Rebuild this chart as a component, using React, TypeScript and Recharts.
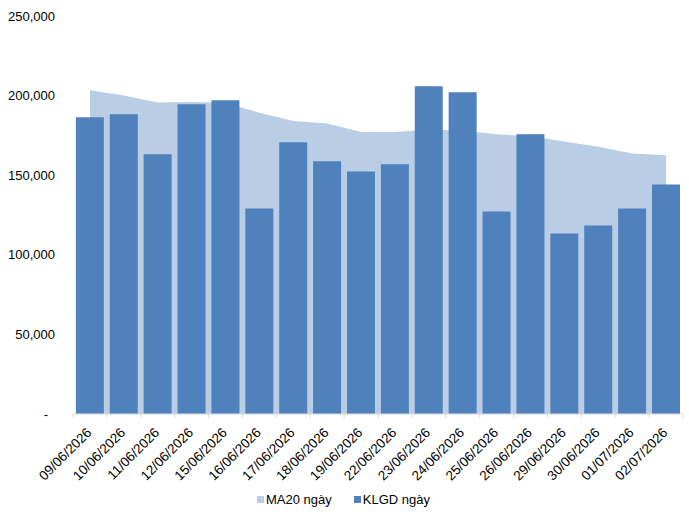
import React from "react";
import { ComposedChart, Bar, Area, XAxis, YAxis, Legend } from "recharts";

const categories = [
  "09/06/2026", "10/06/2026", "11/06/2026", "12/06/2026", "15/06/2026", "16/06/2026",
  "17/06/2026", "18/06/2026", "19/06/2026", "22/06/2026", "23/06/2026", "24/06/2026",
  "25/06/2026", "26/06/2026", "29/06/2026", "30/06/2026", "01/07/2026", "02/07/2026",
];

const klgd = [
  186400, 188300, 163100, 194600, 197100, 129100,
  170700, 158700, 152400, 156800, 205900, 202100,
  127200, 175700, 113400, 118400, 129100, 144200,
];

const ma20 = [
  203400, 200000, 195600, 196000, 195400, 189200,
  184000, 182400, 177100, 177100, 178500, 178000,
  175700, 174400, 171100, 167800, 163700, 162500,
];

const yTicks = [0, 50000, 100000, 150000, 200000, 250000];

const seriesNames = ["MA20 ngày", "KLGD ngày"];

const data = categories.map((d, i) => ({ date: d, klgd: klgd[i], ma20: ma20[i] }));

const FONT = "'Liberation Sans', Arial, sans-serif";

const XTick = (props: any) => {
  const { x, y, payload } = props;
  const half = payload.offset || 0;
  const last = payload.index === categories.length - 1;
  return (
    <g>
      <line x1={x - half} y1={y} x2={x - half} y2={y + 4} stroke="#D9D9D9" />
      {last && <line x1={x + half} y1={y} x2={x + half} y2={y + 4} stroke="#D9D9D9" />}
      <text
        transform={`translate(${x - 1},${y + 16}) rotate(-45)`}
        textAnchor="end"
        dy="0.35em"
        fontSize={13.5}
        fontFamily={FONT}
        fill="#000"
      >
        {payload.value}
      </text>
    </g>
  );
};

const YTick = (props: any) => {
  const { y, payload } = props;
  const v = payload.value as number;
  const label = v === 0 ? "-" : v.toLocaleString("en-US");
  return (
    <text
      x={v === 0 ? 48 : 55}
      y={y}
      dy="0.35em"
      textAnchor="end"
      fontSize={13}
      fontFamily={FONT}
      fill="#000"
    >
      {label}
    </text>
  );
};

const LegendContent = (props: any) => {
  const items = [...(props.payload || [])].sort(
    (a: any, b: any) => seriesNames.indexOf(a.value) - seriesNames.indexOf(b.value)
  );
  return (
    <div
      style={{
        height: 20,
        display: "flex",
        justifyContent: "center",
        alignItems: "center",
        fontFamily: FONT,
        fontSize: 13,
        color: "#000",
        paddingLeft: 4,
      }}
    >
      {items.map((it: any, i: number) => (
        <div key={i} style={{ display: "flex", alignItems: "center", marginRight: i === 0 ? 22 : 0 }}>
          <span style={{ width: 7, height: 7, background: it.color, display: "inline-block", marginRight: 2 }} />
          <span>{it.value}</span>
        </div>
      ))}
    </div>
  );
};

export default function App() {
  return (
    <div style={{ width: 689, height: 517 }}>
      <style>{`body{margin:0}`}</style>
      <ComposedChart
        width={689}
        height={517}
        data={data}
        margin={{ top: 16, right: 6, bottom: 7.5, left: 0 }}
        barCategoryGap="8.5%"
      >
        <XAxis
          dataKey="date"
          interval={0}
          tickLine={false}
          tickSize={0}
          tickMargin={0}
          axisLine={{ stroke: "#D9D9D9" }}
          tick={<XTick />}
          height={75.5}
        />
        <YAxis
          domain={[0, 250000]}
          ticks={yTicks}
          axisLine={false}
          tickLine={false}
          tickSize={0}
          tickMargin={0}
          width={73}
          tick={<YTick />}
        />
        <Legend verticalAlign="bottom" content={<LegendContent />} />
        <Area
          type="linear"
          dataKey="ma20"
          name={seriesNames[0]}
          fill="#B9CDE5"
          stroke="none"
          fillOpacity={1}
          isAnimationActive={false}
        />
        <Bar dataKey="klgd" name={seriesNames[1]} fill="#4F81BD" isAnimationActive={false} />
      </ComposedChart>
    </div>
  );
}
